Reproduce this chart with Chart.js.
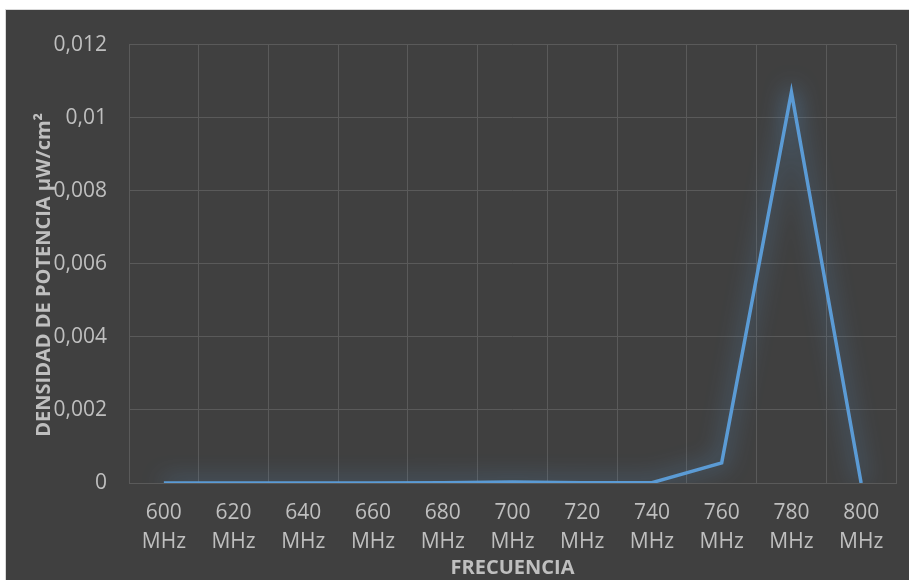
<!DOCTYPE html>
<html>
<head>
<meta charset="utf-8">
<script src="https://cdn.jsdelivr.net/npm/chart.js@4"></script>
<style>
  html, body { margin: 0; padding: 0; background: #ffffff; }
  #wrap {
    position: absolute; left: 5px; top: 9px;
    width: 903px; height: 570px;
    background: #404040;
    border-left: 1px solid #d9d9d9; border-top: 1px solid #d9d9d9;
  }
</style>
</head>
<body>
<div id="wrap"><canvas id="myChart" width="903" height="570"></canvas></div>
<script>
// frecuencias (MHz) y densidad de potencia (µW/cm²)
const frecuencias = [600, 620, 640, 660, 680, 700, 720, 740, 760, 780, 800];
const densidad = [0, 0, 0, 0, 0.000005, 0.00003, 0.00001, 0.00001, 0.00055, 0.0107, 0];
const yTicks = [0, 0.002, 0.004, 0.006, 0.008, 0.01, 0.012];

const textColor = '#bfbfbf';
const gridColor = '#5a5a5a';
const fontFamily = '"Open Sans", "Noto Sans", sans-serif';

// brillo alrededor de la linea
const glowPlugin = {
    id: 'glow',
    beforeDatasetsDraw(chart) {
        const ctx = chart.ctx;
        ctx.save();
        ctx.shadowColor = 'rgba(91, 155, 213, 0.9)';
        ctx.shadowBlur = 22;
    },
    afterDatasetsDraw(chart) {
        chart.ctx.restore();
    }
};

// titulo del eje Y (se superpone a las etiquetas como en Excel)
const yTitlePlugin = {
    id: 'yTitle',
    afterDraw(chart) {
        const ctx = chart.ctx;
        const area = chart.chartArea;
        ctx.save();
        ctx.translate(38, (area.top + area.bottom) / 2 + 11);
        ctx.rotate(-Math.PI / 2);
        ctx.font = 'bold 20px ' + fontFamily;
        ctx.fillStyle = textColor;
        ctx.textAlign = 'center';
        ctx.textBaseline = 'middle';
        ctx.fillText('DENSIDAD DE POTENCIA µW/cm²', 0, 0);
        ctx.restore();
    }
};

const ctx = document.getElementById('myChart').getContext('2d');
const myChart = new Chart(ctx, {
    type: 'line',
    data: {
        labels: frecuencias.map(f => [String(f), 'MHz']),
        datasets: [{
            data: densidad,
            borderColor: '#5b9bd5',
            borderWidth: 3.5,
            pointRadius: 0,
            tension: 0,
            fill: false
        }]
    },
    options: {
        responsive: false,
        animation: false,
        layout: { padding: { top: 29, right: 13, left: 0, bottom: 0 } },
        plugins: {
            legend: { display: false },
            tooltip: { enabled: false }
        },
        scales: {
            x: {
                offset: true,
                grid: { offset: true, color: gridColor, lineWidth: 1, drawTicks: false },
                border: { color: gridColor },
                ticks: {
                    color: textColor,
                    font: { family: fontFamily, size: 21, lineHeight: 1.35 },
                    padding: 16,
                    maxRotation: 0,
                    autoSkip: false
                },
                title: {
                    display: true,
                    text: 'FRECUENCIA',
                    color: textColor,
                    font: { family: fontFamily, size: 20, weight: 'bold' },
                    padding: { top: 0, bottom: 0 }
                },
                afterFit(scale) { scale.height = 97; }
            },
            y: {
                min: 0,
                max: 0.012,
                afterBuildTicks(scale) { scale.ticks = yTicks.map(v => ({ value: v })); },
                grid: { color: gridColor, lineWidth: 1, drawTicks: false },
                border: { display: false },
                ticks: {
                    color: textColor,
                    font: { family: fontFamily, size: 21 },
                    padding: 22,
                    callback: v => String(Number(v.toFixed(3))).replace('.', ',')
                },
                afterFit(scale) { scale.width = 123; }
            }
        }
    },
    plugins: [glowPlugin, yTitlePlugin]
});
</script>
</body>
</html>
